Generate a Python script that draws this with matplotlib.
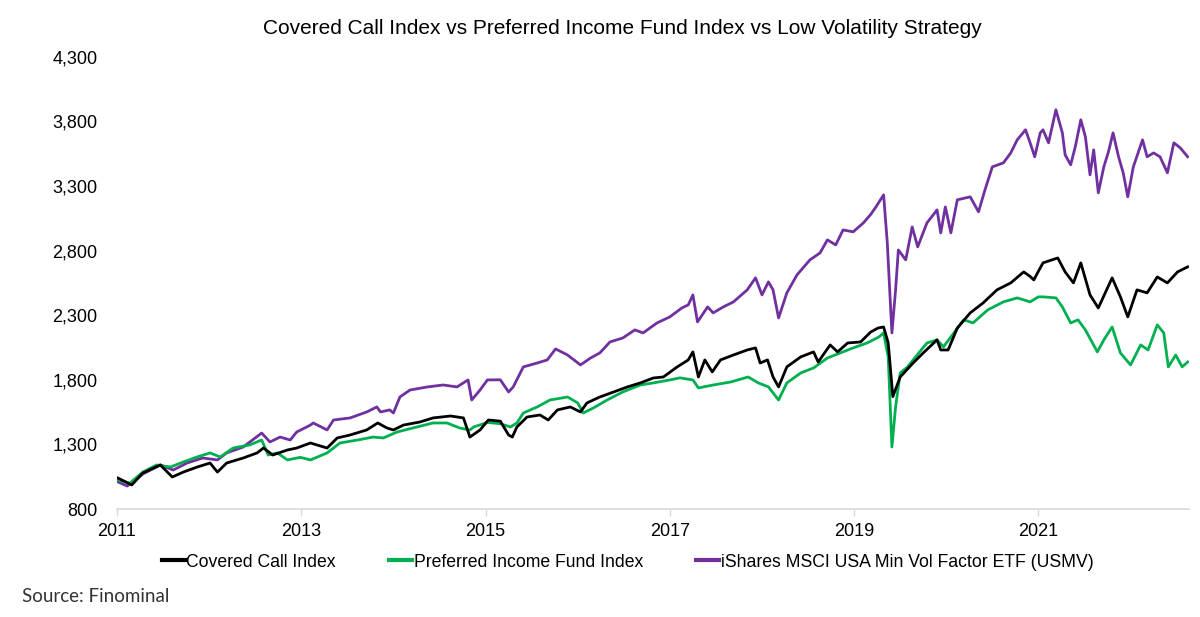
import matplotlib
matplotlib.use("Agg")
import matplotlib.pyplot as plt
from matplotlib.ticker import FuncFormatter

# ---------------- data ----------------
usmv_dates = [2011.01, 2011.11, 2011.28, 2011.47, 2011.61, 2011.76, 2011.93, 2012.09, 2012.19, 2012.37,
              2012.57, 2012.66, 2012.77, 2012.88, 2012.95, 2013.10, 2013.13, 2013.28, 2013.35, 2013.53,
              2013.71, 2013.82, 2013.86, 2013.96, 2014.00, 2014.07, 2014.18, 2014.37, 2014.54, 2014.69,
              2014.81, 2014.85, 2014.94, 2015.02, 2015.16, 2015.25, 2015.30, 2015.41, 2015.56, 2015.67,
              2015.76, 2015.89, 2016.03, 2016.14, 2016.24, 2016.35, 2016.49, 2016.62, 2016.71, 2016.86,
              2017.00, 2017.13, 2017.20, 2017.25, 2017.30, 2017.41, 2017.47, 2017.58, 2017.69, 2017.84,
              2017.93, 2018.00, 2018.07, 2018.12, 2018.18, 2018.27, 2018.38, 2018.52, 2018.63, 2018.71,
              2018.80, 2018.88, 2018.99, 2019.10, 2019.18, 2019.23, 2019.32, 2019.36, 2019.41, 2019.45,
              2019.48, 2019.56, 2019.63, 2019.69, 2019.79, 2019.90, 2019.94, 2019.99, 2020.05, 2020.12,
              2020.26, 2020.35, 2020.42, 2020.50, 2020.62, 2020.70, 2020.77, 2020.86, 2020.91, 2020.96,
              2021.02, 2021.05, 2021.11, 2021.19, 2021.26, 2021.29, 2021.35, 2021.40, 2021.46, 2021.51,
              2021.56, 2021.60, 2021.65, 2021.71, 2021.76, 2021.81, 2021.87, 2021.92, 2021.97, 2022.03,
              2022.13, 2022.18, 2022.25, 2022.32, 2022.40, 2022.47, 2022.54, 2022.62]
usmv_values = [1010, 978, 1071, 1141, 1102, 1156, 1195, 1180, 1234, 1280,
               1388, 1319, 1357, 1334, 1396, 1450, 1466, 1412, 1489, 1505,
               1551, 1590, 1551, 1567, 1543, 1667, 1721, 1745, 1760, 1745,
               1799, 1644, 1721, 1799, 1800, 1706, 1745, 1900, 1930, 1954,
               2039, 1992, 1915, 1969, 2008, 2093, 2124, 2186, 2163, 2240,
               2287, 2356, 2380, 2457, 2248, 2364, 2318, 2364, 2403, 2496,
               2589, 2457, 2558, 2496, 2279, 2473, 2612, 2728, 2782, 2883,
               2844, 2960, 2945, 3014, 3080, 3131, 3231, 2860, 2163, 2496,
               2805, 2728, 2983, 2829, 3014, 3115, 2937, 3138, 2937, 3193,
               3216, 3100, 3270, 3448, 3479, 3556, 3657, 3735, 3634, 3526,
               3711, 3735, 3634, 3890, 3711, 3541, 3464, 3603, 3812, 3680,
               3386, 3580, 3247, 3448, 3564, 3711, 3526, 3402, 3216, 3448,
               3657, 3526, 3556, 3526, 3402, 3634, 3595, 3526]

cc_dates = [2011.01, 2011.16, 2011.28, 2011.47, 2011.60, 2011.72, 2011.87, 2012.01, 2012.09, 2012.19,
            2012.37, 2012.52, 2012.59, 2012.69, 2012.85, 2012.95, 2013.10, 2013.28, 2013.39, 2013.53,
            2013.71, 2013.83, 2013.93, 2014.00, 2014.11, 2014.29, 2014.43, 2014.62, 2014.76, 2014.83,
            2014.94, 2015.03, 2015.16, 2015.25, 2015.29, 2015.34, 2015.45, 2015.59, 2015.68, 2015.78,
            2015.92, 2016.03, 2016.10, 2016.24, 2016.39, 2016.54, 2016.68, 2016.82, 2016.93, 2017.08,
            2017.20, 2017.25, 2017.31, 2017.38, 2017.46, 2017.55, 2017.69, 2017.84, 2017.93, 2017.98,
            2018.06, 2018.12, 2018.18, 2018.27, 2018.42, 2018.56, 2018.61, 2018.74, 2018.82, 2018.93,
            2019.07, 2019.18, 2019.26, 2019.32, 2019.37, 2019.42, 2019.50, 2019.64, 2019.75, 2019.90,
            2019.94, 2020.02, 2020.12, 2020.26, 2020.40, 2020.55, 2020.70, 2020.84, 2020.91, 2020.95,
            2021.00, 2021.05, 2021.21, 2021.29, 2021.38, 2021.46, 2021.56, 2021.65, 2021.80, 2021.89,
            2021.97, 2022.07, 2022.18, 2022.29, 2022.40, 2022.51, 2022.62]
cc_values = [1040, 986, 1079, 1141, 1048, 1086, 1125, 1156, 1086, 1156,
             1195, 1234, 1272, 1218, 1257, 1272, 1311, 1272, 1350, 1373,
             1412, 1466, 1427, 1412, 1450, 1474, 1505, 1520, 1505, 1357,
             1412, 1489, 1480, 1373, 1357, 1435, 1512, 1528, 1489, 1567,
             1590, 1551, 1621, 1667, 1706, 1745, 1776, 1814, 1822, 1900,
             1954, 2016, 1822, 1954, 1861, 1954, 1992, 2031, 2047, 1930,
             1954, 1822, 1745, 1900, 1977, 2016, 1938, 2070, 2016, 2085,
             2093, 2170, 2201, 2209, 2085, 1670, 1822, 1930, 2008, 2109,
             2031, 2031, 2201, 2318, 2395, 2496, 2550, 2635, 2600, 2573,
             2640, 2705, 2743, 2635, 2550, 2705, 2457, 2356, 2589, 2442,
             2287, 2496, 2473, 2596, 2550, 2635, 2674]

pff_dates = [2011.01, 2011.14, 2011.28, 2011.43, 2011.58, 2011.72, 2011.87, 2012.01, 2012.12, 2012.26,
             2012.44, 2012.57, 2012.64, 2012.74, 2012.85, 2012.99, 2013.10, 2013.28, 2013.42, 2013.61,
             2013.78, 2013.89, 2014.04, 2014.21, 2014.43, 2014.58, 2014.72, 2014.83, 2014.87, 2015.02,
             2015.16, 2015.27, 2015.34, 2015.41, 2015.56, 2015.70, 2015.89, 2016.00, 2016.06, 2016.17,
             2016.32, 2016.49, 2016.68, 2016.82, 2017.00, 2017.11, 2017.25, 2017.31, 2017.47, 2017.66,
             2017.85, 2017.96, 2018.07, 2018.18, 2018.27, 2018.42, 2018.56, 2018.71, 2018.85, 2018.99,
             2019.14, 2019.27, 2019.32, 2019.37, 2019.41, 2019.45, 2019.50, 2019.58, 2019.64, 2019.79,
             2019.90, 2019.97, 2020.05, 2020.19, 2020.29, 2020.45, 2020.62, 2020.77, 2020.91, 2021.00,
             2021.05, 2021.19, 2021.26, 2021.35, 2021.43, 2021.51, 2021.64, 2021.71, 2021.80, 2021.89,
             2022.00, 2022.11, 2022.19, 2022.29, 2022.36, 2022.41, 2022.49, 2022.56, 2022.62]
pff_values = [1025, 1001, 1086, 1141, 1125, 1164, 1203, 1234, 1203, 1272,
              1296, 1334, 1218, 1234, 1180, 1200, 1180, 1234, 1311, 1334,
              1357, 1350, 1396, 1427, 1466, 1466, 1427, 1412, 1435, 1470,
              1460, 1435, 1466, 1543, 1590, 1644, 1667, 1621, 1543, 1582,
              1644, 1706, 1760, 1776, 1799, 1815, 1799, 1737, 1760, 1783,
              1822, 1776, 1745, 1644, 1776, 1853, 1892, 1969, 2008, 2047,
              2085, 2132, 2163, 1977, 1280, 1590, 1853, 1900, 1954, 2085,
              2109, 2055, 2132, 2264, 2240, 2341, 2403, 2434, 2403, 2442,
              2442, 2434, 2364, 2240, 2264, 2186, 2016, 2109, 2209, 2008,
              1915, 2070, 2031, 2225, 2163, 1900, 1992, 1900, 1938]

series_names = ["Covered Call Index", "Preferred Income Fund Index",
                "iShares MSCI USA Min Vol Factor ETF (USMV)"]
x_ticks = [2011, 2013, 2015, 2017, 2019, 2021]
y_ticks = [800, 1300, 1800, 2300, 2800, 3300, 3800, 4300]

# ---------------- figure ----------------
plt.rcParams['font.family'] = ['Liberation Sans', 'DejaVu Sans']
fig = plt.figure(figsize=(12, 6.17), dpi=100)
ax = fig.add_axes([0.0975, 0.175, 0.893, 0.733])

ax.plot(cc_dates, cc_values, color="#000000", lw=2.0, label=series_names[0], zorder=3)
ax.plot(pff_dates, pff_values, color="#00B050", lw=2.0, label=series_names[1], zorder=2)
ax.plot(usmv_dates, usmv_values, color="#7030A0", lw=2.0, label=series_names[2], zorder=1)

ax.set_xlim(2011.0, 2022.63)
ax.set_ylim(800, 4300)
ax.set_xticks(x_ticks)
ax.set_xticklabels([str(t) for t in x_ticks])
ax.set_yticks(y_ticks)
ax.yaxis.set_major_formatter(FuncFormatter(lambda v, p: f"{int(v):,}"))

for s in ["top", "right", "left"]:
    ax.spines[s].set_visible(False)
ax.spines["bottom"].set_color("#d9d9d9")
ax.spines["bottom"].set_linewidth(1.2)
ax.tick_params(axis="x", direction="out", length=5, color="#d9d9d9", width=1.0,
               labelsize=13, labelcolor="#000000", pad=5)
ax.tick_params(axis="y", length=0, labelsize=13, labelcolor="#000000", pad=14)

fig.text(0.519, 0.953, "Covered Call Index vs Preferred Income Fund Index vs Low Volatility Strategy",
         ha="center", va="center", fontsize=15, color="#000000")

leg = fig.legend(loc="center", bbox_to_anchor=(0.523, 0.089), ncol=3, frameon=False,
                 fontsize=12.7, handlelength=1.3, handletextpad=0.1, columnspacing=3.0)
for line in leg.get_lines():
    line.set_linewidth(3)

fig.text(0.018, 0.034, "Source: Finominal", ha="left", va="center", fontsize=13.5,
         color="#333333", family=["Lato", "DejaVu Sans"])

fig.savefig("out.png", dpi=100)
